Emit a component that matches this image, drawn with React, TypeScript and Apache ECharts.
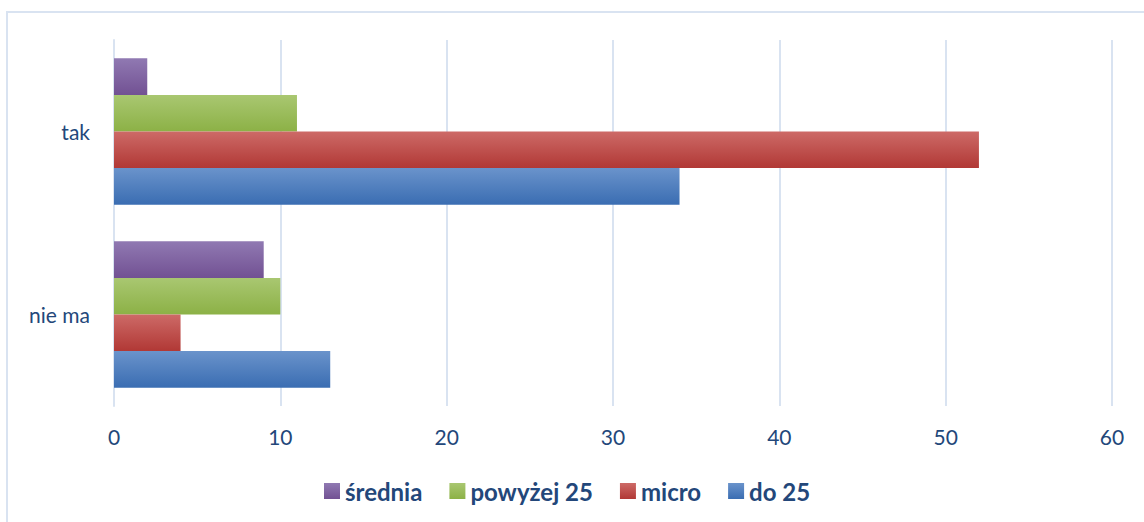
import React, { useEffect, useRef } from "react";
import * as echarts from "echarts";

const categories = ["nie ma", "tak"];
const seriesNames = ["średnia", "powyżej 25", "micro", "do 25"];
const srednia = [9, 2];
const powyzej25 = [10, 11];
const micro = [4, 52];
const do25 = [13, 34];
const xTicks = { min: 0, max: 60, interval: 10 };

const gradients: [string, string][] = [
  ["#9079B2", "#725193"],
  ["#A9C771", "#8CB146"],
  ["#CD6A67", "#B13835"],
  ["#6A93CB", "#3A6DB2"],
];

const TEXT = "#23477A";
const GRID = "#D9E3F1";
const FONT = "Lato, 'Open Sans', sans-serif";

export default function App() {
  const ref = useRef<HTMLDivElement>(null);
  useEffect(() => {
    document.body.style.margin = "0";
    const chart = echarts.init(ref.current!, undefined, { renderer: "svg" });
    const values = [srednia, powyzej25, micro, do25];
    chart.setOption({
      animation: false,
      backgroundColor: "#ffffff",
      graphic: [
        {
          type: "rect",
          shape: { x: 7, y: 12, width: 1150, height: 530 },
          style: { fill: "none", stroke: GRID, lineWidth: 2 },
          silent: true,
        },
      ],
      grid: { left: 114, right: 32, top: 40, bottom: 116, containLabel: false },
      legend: {
        bottom: 14,
        left: 319,
        itemWidth: 16,
        itemHeight: 16,
        itemGap: 27,
        icon: "rect",
        data: seriesNames,
        textStyle: { color: TEXT, fontSize: 24, fontWeight: "bold", fontFamily: FONT },
      },
      xAxis: {
        type: "value",
        min: xTicks.min,
        max: xTicks.max,
        interval: xTicks.interval,
        axisLine: { show: false },
        axisTick: { show: false },
        axisLabel: { color: TEXT, fontSize: 21, fontFamily: FONT, margin: 20 },
        splitLine: { show: true, lineStyle: { color: GRID, width: 2 } },
      },
      yAxis: {
        type: "category",
        data: categories,
        axisLine: { show: true, lineStyle: { color: GRID, width: 2 } },
        axisTick: { show: false },
        axisLabel: { color: TEXT, fontSize: 21, fontFamily: FONT, margin: 24 },
      },
      series: seriesNames.map((name, i) => ({
        name,
        type: "bar",
        data: values[i],
        barGap: "0%",
        barCategoryGap: "20%",
        itemStyle: {
          color: new echarts.graphic.LinearGradient(0, 0, 0, 1, [
            { offset: 0, color: gradients[i][0] },
            { offset: 1, color: gradients[i][1] },
          ]),
        },
      })),
    });
    return () => chart.dispose();
  }, []);
  return <div ref={ref} style={{ width: 1144, height: 522 }} />;
}
